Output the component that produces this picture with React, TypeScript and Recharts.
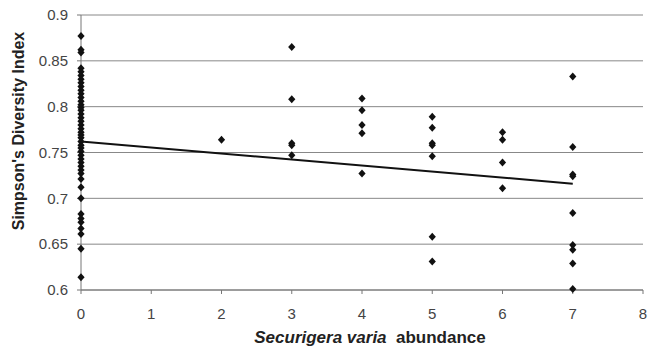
import React from "react";
import { ScatterChart, Scatter, XAxis, YAxis, CartesianGrid, Label } from "recharts";

const abundance0 = [
  0.877, 0.862, 0.859, 0.842, 0.838, 0.834, 0.83, 0.826, 0.822, 0.818, 0.814, 0.81, 0.806, 0.802, 0.799,
  0.796, 0.792, 0.788, 0.784, 0.78, 0.776, 0.772, 0.769, 0.766, 0.762, 0.758, 0.755, 0.751, 0.747, 0.743,
  0.739, 0.735, 0.731, 0.727, 0.721, 0.712, 0.7, 0.683, 0.678, 0.674, 0.667, 0.661, 0.645, 0.614,
];
const abundance2 = [0.764];
const abundance3 = [0.865, 0.808, 0.76, 0.758, 0.747];
const abundance4 = [0.809, 0.796, 0.78, 0.771, 0.727];
const abundance5 = [0.789, 0.777, 0.76, 0.758, 0.746, 0.658, 0.631];
const abundance6 = [0.772, 0.764, 0.739, 0.711];
const abundance7 = [0.833, 0.756, 0.726, 0.724, 0.684, 0.649, 0.644, 0.629, 0.601];

const trendX = [0, 7];
const trendY = [0.762, 0.716];

const xTicks = [0, 1, 2, 3, 4, 5, 6, 7, 8];
const yTicks = [0.6, 0.65, 0.7, 0.75, 0.8, 0.85, 0.9];

const groups: [number, number[]][] = [
  [0, abundance0],
  [2, abundance2],
  [3, abundance3],
  [4, abundance4],
  [5, abundance5],
  [6, abundance6],
  [7, abundance7],
];
const points = groups.flatMap(([x, ys]) => ys.map((y) => ({ x, y })));
const trend = trendX.map((x, i) => ({ x, y: trendY[i] }));

const Diamond = (props: any) => {
  const { cx, cy } = props;
  if (cx == null || cy == null) return null;
  const w = 3.6;
  const h = 4;
  return (
    <polygon
      points={`${cx},${cy - h} ${cx + w},${cy} ${cx},${cy + h} ${cx - w},${cy}`}
      fill="#111"
    />
  );
};

const XTitle = (props: any) => {
  const vb = props.viewBox || {};
  const cx = vb.x + vb.width / 2 + 8;
  return (
    <text x={cx} y={343} textAnchor="middle" fontFamily="Liberation Sans, Arial" fontSize={17} fontWeight="bold" fill="#222">
      <tspan fontStyle="italic">Securigera varia</tspan>
      <tspan>{"\u00a0 abundance"}</tspan>
    </text>
  );
};

const YTitle = () => (
  <text
    x={0}
    y={0}
    transform="translate(24,131) rotate(-90)"
    textAnchor="middle"
    fontFamily="Liberation Sans, Arial"
    fontSize={16}
    fontWeight="bold"
    fill="#222"
  >
    Simpson's Diversity Index
  </text>
);

export default function App() {
  return (
    <div style={{ position: "absolute", left: 0, top: 0, width: 650, height: 354, background: "#fff" }}>
      <ScatterChart width={650} height={354} margin={{ top: 15, right: 7, bottom: 24, left: 0 }}>
        <CartesianGrid vertical={false} stroke="#888" strokeWidth={1} />
        <XAxis
          type="number"
          dataKey="x"
          domain={[0, 8]}
          ticks={xTicks}
          interval={0}
          height={40}
          stroke="#777"
          tickSize={4}
          tick={{ fill: "#444", fontSize: 15, fontFamily: "Liberation Sans, Arial" }}
          tickMargin={14}
        >
          <Label content={<XTitle />} />
        </XAxis>
        <YAxis
          type="number"
          dataKey="y"
          domain={[0.6, 0.9]}
          ticks={yTicks}
          interval={0}
          width={81}
          stroke="#777"
          tickSize={4}
          tickMargin={9}
          tickFormatter={(v: number) => String(Number(v.toFixed(2)))}
          tick={{ fill: "#444", fontSize: 15, fontFamily: "Liberation Sans, Arial" }}
        >
          <Label content={<YTitle />} />
        </YAxis>
        <Scatter data={points} shape={<Diamond />} isAnimationActive={false} />
        <Scatter
          data={trend}
          line={{ stroke: "#111", strokeWidth: 2 }}
          shape={() => null}
          isAnimationActive={false}
        />
      </ScatterChart>
    </div>
  );
}
